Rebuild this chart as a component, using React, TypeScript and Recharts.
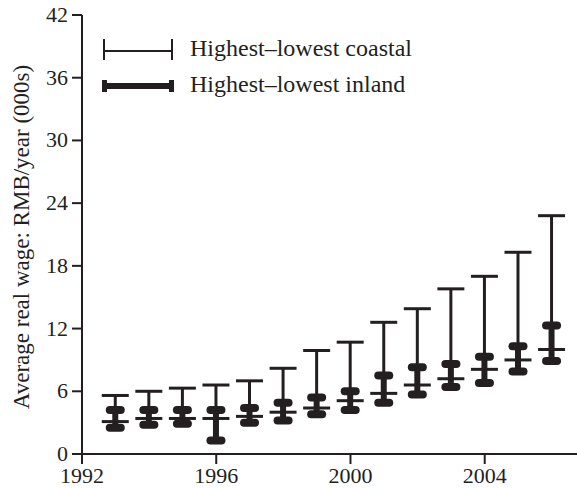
import { ComposedChart, Bar, XAxis, YAxis } from "recharts";

// years of the wage ranges
const years = [1993, 1994, 1995, 1996, 1997, 1998, 1999, 2000, 2001, 2002, 2003, 2004, 2005, 2006];

// highest / lowest coastal province (000s RMB/year)
const coastalHigh = [5.6, 6.0, 6.3, 6.6, 7.0, 8.2, 9.9, 10.7, 12.6, 13.9, 15.8, 17.0, 19.3, 22.8];
const coastalLow = [3.1, 3.4, 3.4, 3.4, 3.6, 4.0, 4.4, 5.1, 5.8, 6.6, 7.2, 8.1, 9.0, 10.0];

// highest / lowest inland province
const inlandHigh = [4.2, 4.2, 4.2, 4.2, 4.4, 4.9, 5.4, 6.0, 7.5, 8.3, 8.6, 9.3, 10.3, 12.3];
const inlandLow = [2.5, 2.8, 2.9, 1.3, 3.0, 3.2, 3.8, 4.2, 4.9, 5.7, 6.4, 6.8, 7.9, 8.9];

const xTicks = [1992, 1996, 2000, 2004];
const yTicks = [0, 6, 12, 18, 24, 30, 36, 42];

const ink = "#231f20";
const font = "'Liberation Serif', 'DejaVu Serif', serif";

const data = years.map((year, i) => ({
  year,
  coastal: [coastalLow[i], coastalHigh[i]],
  inland: [inlandLow[i], inlandHigh[i]],
}));

const CoastalShape = (p: any) => {
  const { x, y, width, height } = p;
  const top = Math.min(y, y + height);
  const bottom = Math.max(y, y + height);
  const cx = x + width / 2;
  return (
    <g stroke={ink} strokeWidth={3}>
      <line x1={cx} x2={cx} y1={top} y2={bottom} />
      <line x1={x} x2={x + width} y1={top} y2={top} />
      <line x1={x} x2={x + width} y1={bottom} y2={bottom} />
    </g>
  );
};

const InlandShape = (p: any) => {
  const { x, y, width, height } = p;
  const top = Math.min(y, y + height);
  const bottom = Math.max(y, y + height);
  const cx = x + width / 2;
  return (
    <g fill={ink}>
      <rect x={cx - 3} y={top} width={6} height={bottom - top} />
      <rect x={x} y={top - 4} width={width} height={8} rx={4} />
      <rect x={x} y={bottom - 4} width={width} height={8} rx={4} />
    </g>
  );
};

const XTick = (p: any) => (
  <text x={p.x} y={p.y + 15} textAnchor="middle" fontSize={22} fontFamily={font} fill={ink}>
    {p.payload.value}
  </text>
);

const YTick = (p: any) => (
  <text x={p.x} y={p.y + 7} textAnchor="end" fontSize={22} fontFamily={font} fill={ink}>
    {p.payload.value}
  </text>
);

function LegendMarks() {
  return (
    <g>
      <g stroke={ink} strokeWidth={2}>
        <line x1={104} x2={172} y1={51} y2={51} />
        <line x1={104} x2={104} y1={39} y2={60} />
        <line x1={172} x2={172} y1={39} y2={60} />
      </g>
      <text x={190} y={56} fontSize={24} fontFamily={font} fill={ink}>
        Highest–lowest coastal
      </text>
      <line x1={104} x2={172} y1={86} y2={86} stroke={ink} strokeWidth={6} />
      <rect x={102} y={80} width={5} height={12} fill={ink} />
      <rect x={169} y={80} width={5} height={12} fill={ink} />
      <text x={190} y={92} fontSize={24} fontFamily={font} fill={ink}>
        Highest–lowest inland
      </text>
    </g>
  );
}

export default function App() {
  return (
    <div style={{ position: "absolute", left: 0, top: 0, background: "#fff", fontFamily: font }}>
      <ComposedChart
        width={577}
        height={488}
        data={data}
        margin={{ top: 15, right: 0, bottom: 0, left: 0 }}
      >
        <XAxis
          dataKey="year"
          type="number"
          domain={[1992, 2006.75]}
          ticks={xTicks}
          height={34}
          tickSize={10}
          tickMargin={4}
          axisLine={{ stroke: ink, strokeWidth: 2 }}
          tickLine={{ stroke: ink, strokeWidth: 2 }}
          tick={<XTick />}
        />
        <XAxis xAxisId="inland" dataKey="year" type="number" domain={[1992, 2006.75]} hide />
        <YAxis
          domain={[0, 42]}
          ticks={yTicks}
          width={82}
          tickSize={10}
          tickMargin={4}
          axisLine={{ stroke: ink, strokeWidth: 2 }}
          tickLine={{ stroke: ink, strokeWidth: 2 }}
          tick={<YTick />}
          label={() => (
            <text
              x={29}
              y={237}
              transform="rotate(-90, 29, 237)"
              textAnchor="middle"
              fontSize={23}
              fontFamily={font}
              fill={ink}
            >
              Average real wage: RMB/year (000s)
            </text>
          )}
        />
        <Bar dataKey="coastal" barSize={27} shape={CoastalShape} isAnimationActive={false} />
        <Bar
          dataKey="inland"
          xAxisId="inland"
          barSize={19}
          shape={InlandShape}
          isAnimationActive={false}
        />
        <LegendMarks />
      </ComposedChart>
    </div>
  );
}
